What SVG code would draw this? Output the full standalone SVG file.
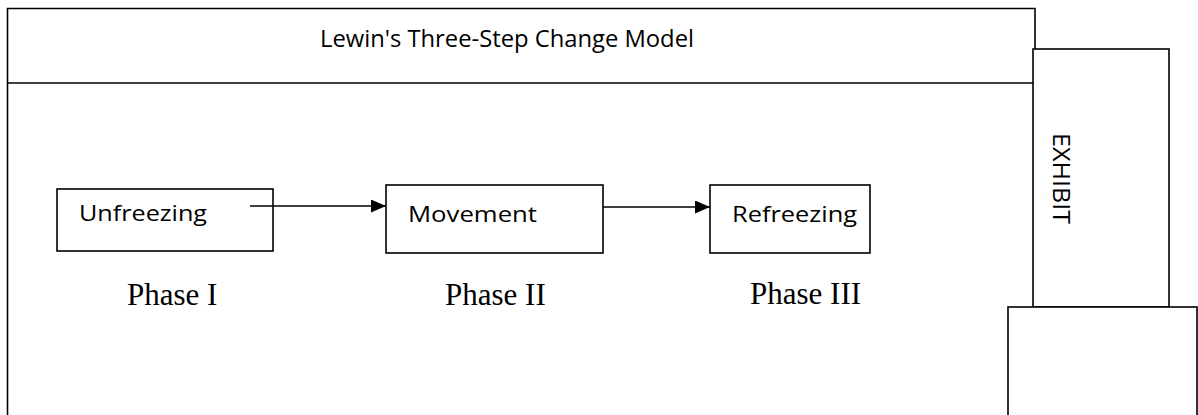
<svg xmlns="http://www.w3.org/2000/svg" width="1198" height="415" viewBox="0 0 1198 415">
<style>
.ln{fill:none;stroke:#000;stroke-width:1.6}
.box{fill:#fff;stroke:#000;stroke-width:1.6}
.sans{font-family:"Open Sans","Liberation Sans",sans-serif;fill:#000}
.serif{font-family:"Liberation Serif","Times New Roman",serif;font-size:31px;fill:#000}
.conn{stroke:#000;stroke-width:1.6;fill:none}
</style>
<defs>
<marker id="ah" markerWidth="15" markerHeight="13" refX="15" refY="6.5" orient="auto" markerUnits="userSpaceOnUse">
<path d="M0,0 L15,6.5 L0,13 Z" fill="#000"/>
</marker>
</defs>
<rect width="1198" height="415" fill="#fff"/>
<g id="frame">
<path class="ln" d="M7.5,430 V8.5 H1035 V430"/>
<line class="ln" x1="7.5" y1="83" x2="1035" y2="83"/>
<text class="sans" x="320" y="47" font-size="24" textLength="374" lengthAdjust="spacingAndGlyphs">Lewin's Three-Step Change Model</text>
</g>
<g id="exhibit">
<rect class="box" x="1033" y="49" width="136" height="258"/>
<text class="sans" font-size="23" transform="translate(1053,133) rotate(90)" textLength="91" lengthAdjust="spacingAndGlyphs">EXHIBIT</text>
</g>
<g id="exhibit-base">
<rect class="box" x="1008" y="307" width="189" height="120"/>
</g>
<g id="unfreezing">
<rect class="box" x="57" y="189" width="216" height="62"/>
<text class="sans" x="79" y="221" font-size="22" textLength="128" lengthAdjust="spacingAndGlyphs">Unfreezing</text>
<text class="serif" x="127" y="305">Phase I</text>
</g>
<g id="movement">
<rect class="box" x="386" y="185" width="217" height="68"/>
<text class="sans" x="408" y="222" font-size="22" textLength="129" lengthAdjust="spacingAndGlyphs">Movement</text>
<text class="serif" x="445" y="305">Phase II</text>
</g>
<g id="refreezing">
<rect class="box" x="710" y="185" width="160" height="68"/>
<text class="sans" x="732" y="222" font-size="22" textLength="125" lengthAdjust="spacingAndGlyphs">Refreezing</text>
<text class="serif" x="750" y="304">Phase III</text>
</g>
<g id="connectors">
<line class="conn" x1="250" y1="206" x2="386" y2="206" marker-end="url(#ah)"/>
<line class="conn" x1="603" y1="207" x2="710" y2="207" marker-end="url(#ah)"/>
</g>
</svg>
